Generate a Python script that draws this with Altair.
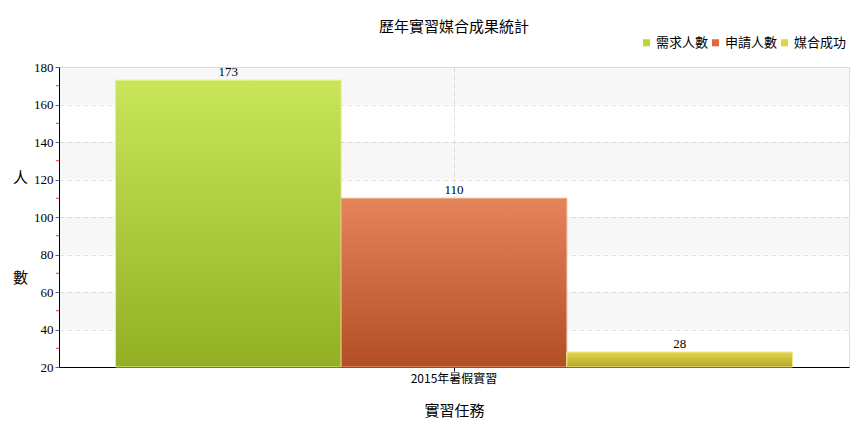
import altair as alt
import pandas as pd

categories = ["2015年暑假實習"]
series = ["需求人數", "申請人數", "媒合成功"]
values = [173, 110, 28]
y_ticks = [20, 40, 60, 80, 100, 120, 140, 160, 180]
minor_ticks = [30, 50, 70, 90, 110, 130, 150, 170]
band_starts = [40, 80, 120, 160]
legend_colors = ["#b6da34", "#e0693a", "#e2d43e"]
grad_top = ["#c9e65b", "#e5845b", "#e3d64d"]
grad_bottom = ["#93b025", "#b14e24", "#b5a527"]
edge_colors = ["#e6f08a", "#f0a88a", "#f0e890"]

CJK = "Noto Sans CJK TC"
NUM = "Liberation Serif"

df = pd.DataFrame({"任務": categories * len(series), "系列": series, "人數": values})
bands = pd.DataFrame({"人數": band_starts})
minors = pd.DataFrame({"人數": minor_ticks})

x_enc = alt.X("任務:N", scale=alt.Scale(paddingInner=0, paddingOuter=0.0835),
              axis=alt.Axis(title="實習任務", labelAngle=0, labelFont=CJK, labelFontSize=12,
                            labelColor="#000", titleFont=CJK, titleFontSize=15,
                            titleFontWeight="normal", titleColor="#000", titlePadding=19,
                            domainColor="#000", tickColor="#000", tickSize=4,
                            grid=True, gridDash=[5, 3], gridColor="#e2e2e2", labelPadding=2))
xo_enc = alt.XOffset("系列:N", scale=alt.Scale(domain=series, paddingInner=0, paddingOuter=0))
y_scale = alt.Scale(domain=[20, 180], zero=False, nice=False)
y_axis = alt.Axis(values=y_ticks, title=["人", "數"], titleAngle=0,
                  titleFont=CJK, titleFontSize=15, titleFontWeight="normal",
                  titleColor="#000", titleLineHeight=100, titleAlign="center",
                  titleBaseline="top", titleX=-39, titleY=103,
                  labelFont=NUM, labelFontSize=13, labelColor="#000", labelPadding=2,
                  domainColor="#000", tickColor="#666", tickSize=4,
                  grid=True, gridDash=[5, 3], gridColor="#e2e2e2")
y_enc = alt.Y("人數:Q", scale=y_scale, axis=y_axis)

band_layer = alt.Chart(bands).transform_calculate(end="datum['人數'] + 20").mark_rect(
    color="#000000", opacity=0.03).encode(y=y_enc, y2="end:Q")

bar_layers = []
for s, t, b, e in zip(series, grad_top, grad_bottom, edge_colors):
    grad = alt.Gradient(gradient="linear",
                        stops=[alt.GradientStop(color=t, offset=0),
                               alt.GradientStop(color=b, offset=1)],
                        x1=0, x2=0, y1=0, y2=1)
    bar_layers.append(
        alt.Chart(df).transform_filter(alt.datum["系列"] == s).mark_bar(
            fill=grad, stroke=e, strokeWidth=1).encode(
            x=x_enc, xOffset=xo_enc, y=y_enc, y2=alt.datum(20)))

text_layer = alt.Chart(df).mark_text(baseline="bottom", dy=-1, font=NUM, fontSize=13,
                                     color="#000").encode(
    x=x_enc, xOffset=xo_enc, y=y_enc, text="人數:Q")

legend_layer = alt.Chart(df).mark_square(opacity=0).encode(
    x=x_enc, xOffset=xo_enc, y=y_enc,
    color=alt.Color("系列:N", scale=alt.Scale(domain=series, range=legend_colors),
                    legend=alt.Legend(title=None, orient="none", legendX=581, legendY=-31,
                                      direction="horizontal", symbolType="square",
                                      symbolSize=50, symbolOpacity=1, symbolStrokeWidth=0,
                                      labelFont=CJK, labelFontSize=13, labelColor="#000",
                                      labelOffset=3, columnPadding=0)))

minor_layer = alt.Chart(minors).mark_rule(color="#ff3030", strokeWidth=1).encode(
    y=y_enc, x=alt.value(-3), x2=alt.value(0))

chart = alt.layer(band_layer, *bar_layers, text_layer, legend_layer, minor_layer).properties(
    width=790, height=300,
    title=alt.TitleParams("歷年實習媒合成果統計", font=CJK, fontSize=15, fontWeight="normal",
                          color="#000", anchor="middle", offset=1),
    autosize=alt.AutoSizeParams(type="none"),
    padding={"left": 51, "top": 59, "right": 9, "bottom": 54},
).configure_view(stroke=None).configure(background="#ffffff")

chart.save("out.html", embed_options={"renderer": "svg", "actions": False})
